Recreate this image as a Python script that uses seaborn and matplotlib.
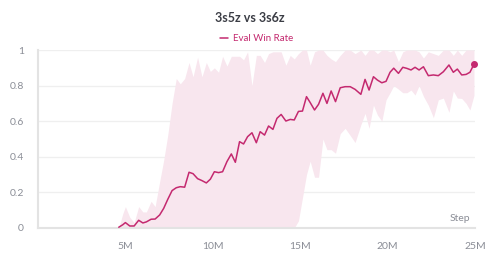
"""3s5z vs 3s6z evaluation win rate with min/max band."""

import matplotlib
matplotlib.use("Agg")
import matplotlib.pyplot as plt
import pandas as pd
import seaborn as sns
from matplotlib.ticker import FuncFormatter

# training step in millions
steps = [
    4.62, 4.85, 5.0, 5.25, 5.5, 5.76, 6.0, 6.2, 6.47, 6.7,
    6.96, 7.19, 7.42, 7.67, 7.91, 8.14, 8.39, 8.64, 8.87, 9.13,
    9.38, 9.63, 9.86, 10.09, 10.33, 10.56, 10.81, 11.06, 11.29, 11.53,
    11.76, 11.99, 12.24, 12.49, 12.71, 12.96, 13.19, 13.44, 13.67, 13.91,
    14.18, 14.43, 14.66, 14.9, 15.13, 15.36, 15.57, 15.82, 16.05, 16.3,
    16.53, 16.77, 17.02, 17.29, 17.57, 17.86, 18.14, 18.47, 18.71, 18.94,
    19.19, 19.42, 19.67, 19.91, 20.14, 20.35, 20.62, 20.87, 21.1, 21.34,
    21.57, 21.8, 22.05, 22.33, 22.62, 22.9, 23.19, 23.51, 23.76, 23.99,
    24.24, 24.49, 24.71, 24.94,
]
win_rate = [
    0.004, 0.018, 0.03, 0.011, 0.011, 0.043, 0.028, 0.034, 0.049, 0.05,
    0.073, 0.11, 0.16, 0.21, 0.226, 0.232, 0.229, 0.313, 0.305, 0.277,
    0.266, 0.253, 0.274, 0.316, 0.311, 0.316, 0.373, 0.416, 0.369, 0.485,
    0.472, 0.513, 0.535, 0.479, 0.541, 0.522, 0.573, 0.554, 0.616, 0.638,
    0.601, 0.61, 0.607, 0.655, 0.657, 0.738, 0.705, 0.663, 0.695, 0.757,
    0.7, 0.77, 0.71, 0.788, 0.794, 0.794, 0.779, 0.751, 0.835, 0.775,
    0.85, 0.831, 0.816, 0.824, 0.875, 0.898, 0.869, 0.903, 0.897, 0.888,
    0.903, 0.888, 0.906, 0.856, 0.86, 0.856, 0.878, 0.916, 0.875, 0.893,
    0.86, 0.863, 0.875, 0.92,
]
band_max = [
    0.0, 0.08, 0.12, 0.06, 0.03, 0.12, 0.09, 0.09, 0.15, 0.12,
    0.26, 0.38, 0.52, 0.70, 0.84, 0.81, 0.84, 0.93, 0.85, 0.96,
    0.85, 0.93, 0.88, 0.90, 0.875, 0.965, 0.91, 0.965, 0.965, 0.965,
    0.945, 0.99, 0.80, 0.97, 0.97, 0.93, 0.98, 0.99, 0.99, 0.99,
    0.915, 0.97, 0.95, 0.98, 1.0, 1.0, 0.915, 0.99, 1.0, 1.0,
    0.97, 0.95, 0.935, 0.97, 1.0, 1.0, 0.98, 1.0, 0.97, 1.0,
    1.0, 0.98, 1.0, 1.0, 0.99, 1.0, 0.935, 0.99, 1.0, 1.0,
    1.0, 0.99, 0.955, 0.99, 0.98, 0.97, 1.0, 1.0, 0.97, 1.0,
    0.97, 1.0, 1.0, 1.0,
]
band_min = [
    0.0, 0.0, 0.0, 0.0, 0.0, 0.0, 0.0, 0.0, 0.0, 0.0,
    0.0, 0.0, 0.0, 0.0, 0.0, 0.0, 0.0, 0.0, 0.0, 0.0,
    0.0, 0.0, 0.0, 0.0, 0.0, 0.0, 0.0, 0.0, 0.0, 0.0,
    0.0, 0.0, 0.0, 0.0, 0.0, 0.0, 0.0, 0.0, 0.0, 0.0,
    0.0, 0.0, 0.0, 0.04, 0.17, 0.30, 0.375, 0.285, 0.285, 0.50,
    0.44, 0.44, 0.42, 0.53, 0.56, 0.52, 0.48, 0.58, 0.644, 0.56,
    0.69, 0.635, 0.60, 0.72, 0.76, 0.80, 0.78, 0.76, 0.76, 0.775,
    0.747, 0.80, 0.74, 0.69, 0.62, 0.72, 0.73, 0.65, 0.77, 0.73,
    0.728, 0.70, 0.663, 0.745,
]
x_ticks = [5, 10, 15, 20, 25]
y_ticks = [0, 0.2, 0.4, 0.6, 0.8, 1.0]

LINE_COLOR = "#c4296f"
BAND_COLOR = "#f8e6ee"
GRID_COLOR = "#efefef"
TEXT_GRAY = "#8a8d96"

df = pd.DataFrame(
    {"step": steps, "win_rate": win_rate, "lo": band_min, "hi": band_max}
)

sns.set_theme(style="white")
plt.rcParams["font.family"] = ["Lato", "DejaVu Sans"]

fig = plt.figure(figsize=(5.0, 2.62), dpi=100)
ax = fig.add_axes([0.076, 0.13, 0.874, 0.679])

ax.fill_between(df["step"], df["lo"], df["hi"], color=BAND_COLOR, linewidth=0, zorder=1)
sns.lineplot(data=df, x="step", y="win_rate", color=LINE_COLOR, linewidth=1.1,
             ax=ax, zorder=3, label="Eval Win Rate")
last = df.iloc[-1]
ax.plot([last["step"]], [last["win_rate"]], marker="o", markersize=4,
        color=LINE_COLOR, linestyle="none", zorder=4, clip_on=False)

ax.set_xlim(0, 25)
ax.set_ylim(0, 1)
ax.set_xticks(x_ticks)
ax.set_yticks(y_ticks)
ax.xaxis.set_major_formatter(FuncFormatter(lambda v, _: f"{int(v)}M"))
ax.yaxis.set_major_formatter(FuncFormatter(lambda v, _: f"{v:g}"))
ax.grid(axis="y", color=GRID_COLOR, linewidth=0.9, zorder=0)
ax.set_axisbelow(True)

for side in ("top", "right"):
    ax.spines[side].set_visible(False)
for side in ("left", "bottom"):
    ax.spines[side].set_color("#e3e3e3")
    ax.spines[side].set_linewidth(1.5)

ax.tick_params(axis="x", length=4, width=1, color="#e3e3e3", colors=TEXT_GRAY,
               labelsize=7.5, pad=6)
ax.tick_params(axis="y", length=0, colors=TEXT_GRAY, labelsize=7.5, pad=10)
ax.set_xlabel("")
ax.set_ylabel("")
ax.text(24.7, 0.025, "Step", ha="right", va="bottom", fontsize=7.5, color=TEXT_GRAY)

ax.legend(loc="lower center", bbox_to_anchor=(0.5, 1.0), frameon=False,
          fontsize=7, handlelength=0.8, handletextpad=0.5, borderpad=0.2,
          labelcolor=LINE_COLOR)
fig.text(0.5, 0.93, "3s5z vs 3s6z", ha="center", va="center",
         fontsize=9, fontweight="bold", color="#3b3d45")

fig.savefig("out.png", dpi=100)
